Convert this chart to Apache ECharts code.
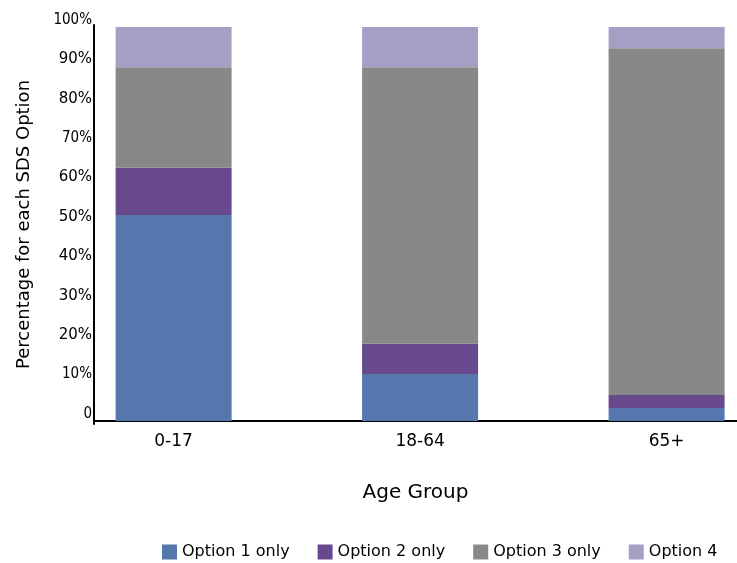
<!DOCTYPE html>
<html>
<head>
<meta charset="utf-8">
<script src="https://cdn.jsdelivr.net/npm/echarts@6/dist/echarts.min.js"></script>
<style>
  html, body { margin: 0; padding: 0; background: #fff; }
  #chart { width: 737px; height: 563px; }
</style>
</head>
<body>
<div id="chart"></div>
<script>
// Share of each SDS option by age group (percent of the group)
const categories = ['0-17', '18-64', '65+'];
const seriesNames = ['Option 1 only', 'Option 2 only', 'Option 3 only', 'Option 4'];
const option1 = [52.3, 11.9, 3.3];
const option2 = [12.0, 7.7, 3.3];
const option3 = [25.5, 70.2, 88.0];
const option4 = [10.2, 10.2, 5.4];
const tickValues = [0, 10, 20, 30, 40, 50, 60, 70, 80, 90, 100];
const tickLabels = ['0', '10%', '20%', '30%', '40%', '50%', '60%', '70%', '80%', '90%', '100%'];
const narrowLabels = ['0', '10%', '70%', '100%'];

const colors = ['#5577ae', '#68498d', '#888888', '#a59fc6'];
const FONT = '"DejaVu Sans", sans-serif';

const chart = echarts.init(document.getElementById('chart'), null, { renderer: 'canvas' });

const seriesData = [option1, option2, option3, option4];

chart.setOption({
  animation: false,
  color: colors,
  textStyle: { fontFamily: FONT, color: '#000' },
  grid: [
    // bars (the band runs past the right edge of the canvas)
    { left: 50.35, top: 27, width: 739.5, height: 394, containLabel: false, outerBoundsMode: 'none' },
    // axis frame
    { left: 94, right: 0, top: 25, bottom: 139, containLabel: false, outerBoundsMode: 'none' }
  ],
  legend: {
    data: seriesNames,
    left: 157,
    top: 539,
    itemWidth: 15,
    itemHeight: 15,
    itemGap: 28,
    icon: 'rect',
    textStyle: { fontFamily: FONT, fontSize: 16, color: '#000' }
  },
  xAxis: [
    {
      type: 'category',
      gridIndex: 0,
      data: categories,
      axisLine: { show: false },
      axisTick: { show: false },
      axisLabel: { margin: 12, fontSize: 17, color: '#000', fontFamily: FONT }
    },
    {
      type: 'value',
      gridIndex: 1,
      min: 0,
      max: 1,
      axisLine: { show: true, lineStyle: { color: '#000', width: 2 } },
      axisTick: { show: false },
      axisLabel: { show: false },
      splitLine: { show: false },
      name: 'Age Group',
      nameLocation: 'middle',
      nameGap: 59,
      nameTextStyle: { fontSize: 20, color: '#000', fontFamily: FONT }
    }
  ],
  yAxis: [
    {
      type: 'value',
      gridIndex: 0,
      min: 0,
      max: 100,
      show: false
    },
    {
      type: 'value',
      gridIndex: 1,
      // 0 sits 3px above the frame bottom, 100 sits 2px below its top
      min: -3 / 3.94,
      max: 100 + 2 / 3.94,
      axisLine: { show: true, lineStyle: { color: '#000', width: 2 } },
      axisTick: { show: false },
      splitLine: { show: false },
      axisLabel: {
        customValues: tickValues,
        margin: 2,
        padding: [0, 0, 14, 0],
        fontSize: 15,
        color: '#000',
        fontFamily: FONT,
        formatter: function (v) {
          const lbl = tickLabels[tickValues.indexOf(Math.round(v))];
          return narrowLabels.indexOf(lbl) >= 0 ? '{n|' + lbl + '}' : lbl;
        },
        rich: {
          n: {
            fontSize: 15,
            fontFamily: '"DejaVu Sans Condensed", "Liberation Sans Narrow", sans-serif',
            color: '#000'
          }
        }
      },
      name: 'Percentage for each SDS Option',
      nameLocation: 'middle',
      nameGap: 61,
      nameTextStyle: { fontSize: 18, color: '#000', fontFamily: FONT }
    }
  ],
  series: seriesNames.map(function (name, i) {
    return {
      name: name,
      type: 'bar',
      stack: 'total',
      xAxisIndex: 0,
      yAxisIndex: 0,
      barWidth: 116,
      data: seriesData[i],
      itemStyle: { color: colors[i] }
    };
  })
});
</script>
</body>
</html>
